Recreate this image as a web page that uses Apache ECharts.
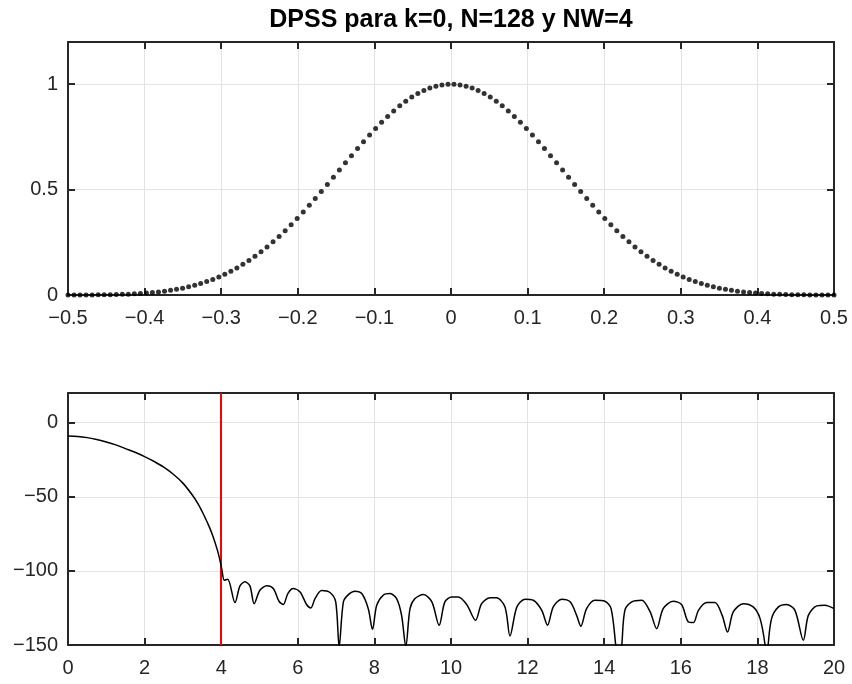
<!DOCTYPE html>
<html><head><meta charset="utf-8">
<script src="https://cdn.jsdelivr.net/npm/echarts@6/dist/echarts.min.js"></script>
<style>html,body{margin:0;padding:0;background:#fff}#c{width:852px;height:684px}</style>
</head><body><div id="c"></div>
<script>
const titleText = 'DPSS para k=0, N=128 y NW=4';

// Top panel: DPSS window samples (time axis -0.5..0.5)
const winX = [
-0.5000,-0.4921,-0.4843,-0.4764,-0.4685,-0.4606,-0.4528,-0.4449,-0.4370,-0.4291,-0.4213,-0.4134,-0.4055,-0.3976,-0.3898,-0.3819,
-0.3740,-0.3661,-0.3583,-0.3504,-0.3425,-0.3346,-0.3268,-0.3189,-0.3110,-0.3031,-0.2953,-0.2874,-0.2795,-0.2717,-0.2638,-0.2559,
-0.2480,-0.2402,-0.2323,-0.2244,-0.2165,-0.2087,-0.2008,-0.1929,-0.1850,-0.1772,-0.1693,-0.1614,-0.1535,-0.1457,-0.1378,-0.1299,
-0.1220,-0.1142,-0.1063,-0.0984,-0.0906,-0.0827,-0.0748,-0.0669,-0.0591,-0.0512,-0.0433,-0.0354,-0.0276,-0.0197,-0.0118,-0.0039,
0.0039,0.0118,0.0197,0.0276,0.0354,0.0433,0.0512,0.0591,0.0669,0.0748,0.0827,0.0906,0.0984,0.1063,0.1142,0.1220,
0.1299,0.1378,0.1457,0.1535,0.1614,0.1693,0.1772,0.1850,0.1929,0.2008,0.2087,0.2165,0.2244,0.2323,0.2402,0.2480,
0.2559,0.2638,0.2717,0.2795,0.2874,0.2953,0.3031,0.3110,0.3189,0.3268,0.3346,0.3425,0.3504,0.3583,0.3661,0.3740,
0.3819,0.3898,0.3976,0.4055,0.4134,0.4213,0.4291,0.4370,0.4449,0.4528,0.4606,0.4685,0.4764,0.4843,0.4921,0.5000
];
const winY = [
0.0000,0.0001,0.0001,0.0003,0.0005,0.0007,0.0011,0.0016,0.0022,0.0031,0.0041,0.0055,0.0071,0.0091,0.0115,0.0145,
0.0179,0.0220,0.0268,0.0323,0.0386,0.0459,0.0542,0.0635,0.0739,0.0856,0.0985,0.1127,0.1283,0.1453,0.1637,0.1837,
0.2050,0.2279,0.2522,0.2779,0.3050,0.3333,0.3629,0.3935,0.4251,0.4576,0.4908,0.5245,0.5585,0.5928,0.6270,0.6609,
0.6944,0.7271,0.7590,0.7898,0.8192,0.8470,0.8731,0.8971,0.9190,0.9386,0.9557,0.9701,0.9818,0.9907,0.9966,1.0000,
1.0000,0.9966,0.9907,0.9818,0.9701,0.9557,0.9386,0.9190,0.8971,0.8731,0.8470,0.8192,0.7898,0.7590,0.7271,0.6944,
0.6609,0.6270,0.5928,0.5585,0.5245,0.4908,0.4576,0.4251,0.3935,0.3629,0.3333,0.3050,0.2779,0.2522,0.2279,0.2050,
0.1837,0.1637,0.1453,0.1283,0.1127,0.0985,0.0856,0.0739,0.0635,0.0542,0.0459,0.0386,0.0323,0.0268,0.0220,0.0179,
0.0145,0.0115,0.0091,0.0071,0.0055,0.0041,0.0031,0.0022,0.0016,0.0011,0.0007,0.0005,0.0003,0.0001,0.0001,0.0000
];

// Bottom panel: spectrum in dB
const freq = [
0,0.25,0.5,0.75,1.0,1.25,1.5,1.75,2.0,2.25,2.5,2.75,3.0,3.25,3.4,3.55,3.7,3.8,3.9,3.96,4.02,
4.08,4.17,4.36,4.49,4.62,4.75,4.86,5.01,5.19,5.36,5.51,5.62,5.74,5.88,6.06,6.23,6.34,6.45,6.62,6.84,6.99,
7.08,7.19,7.32,7.49,7.67,7.84,7.95,8.06,8.23,8.41,8.58,8.71,8.82,8.93,9.06,9.28,9.50,9.69,9.84,
10.02,10.19,10.41,10.64,10.80,11.02,11.19,11.41,11.54,11.72,11.93,12.15,12.37,12.52,12.67,12.89,13.11,13.28,13.39,13.54,13.76,
14.02,14.18,14.30,14.38,14.46,14.54,14.72,14.98,15.20,15.37,15.54,15.80,16.02,16.20,16.33,16.46,16.68,16.89,17.08,17.22,17.37,17.63,17.89,
18.07,18.20,18.24,18.28,18.37,18.55,18.76,18.98,19.20,19.33,19.55,19.76,20.0
];
const magDb = [
-9.0,-9.3,-10.1,-11.4,-13.0,-15.0,-17.5,-20.0,-22.9,-26.2,-30.0,-34.8,-40.8,-49.0,-55.0,-62.5,-71.0,-77.8,-86.0,-92.0,-99.5,
-106.3,-105.6,-121.4,-110.1,-107.4,-110.1,-122.1,-113.1,-110.1,-111.9,-120.5,-122.7,-115.3,-111.9,-114.2,-122.7,-125.0,-118.7,-113.3,-114.6,-120.9,
-151,-120.9,-116.0,-113.7,-115.3,-125.5,-139.4,-123.2,-116.4,-115.3,-118.7,-130.0,-151,-125.5,-118.7,-116.0,-120.9,-136.7,-120.9,
-117.6,-117.6,-122.7,-133.3,-122.1,-118.2,-118.2,-124.3,-143.9,-124.3,-119.1,-119.8,-126.6,-136.7,-124.3,-119.1,-120.9,-130.0,-137.4,-125.5,-119.8,
-120.5,-125.5,-150,-170,-150,-126.6,-120.9,-119.8,-127.7,-139.0,-125.5,-120.5,-122.7,-134.5,-134.9,-126.6,-121.4,-121.4,-130.0,-141.2,-127.7,-122.1,-124.3,
-132.2,-150,-165,-150,-132.2,-124.3,-122.7,-126.6,-146.8,-130.0,-123.6,-123.2,-125.5
];
const redLineX = 4;

// Tick labels
const topXTicks = [-0.5,-0.4,-0.3,-0.2,-0.1,0,0.1,0.2,0.3,0.4,0.5];
const topYTicks = [0,0.5,1];
const botXTicks = [0,2,4,6,8,10,12,14,16,18,20];
const botYTicks = [-150,-100,-50,0];

const FONT = '"Liberation Sans", Arial, Helvetica, sans-serif';
const AX = '#262626';
const GRIDC = '#e3e3e3';

function fmt(ticks) {
  return function (v) {
    const hit = ticks.find(t => Math.abs(t - v) < 1e-9);
    if (hit === undefined) return '';
    return String(hit).replace('-', '\u2212');
  };
}
function mainAxis(gridIndex, min, max, interval, ticks, isX) {
  return {
    type: 'value', gridIndex, min, max, interval,
    position: isX ? 'bottom' : 'left',
    axisLine: { show: true, onZero: false, lineStyle: { color: AX, width: 2 } },
    axisTick: { show: true, inside: true, length: 7, lineStyle: { color: AX, width: 2 } },
    axisLabel: { show: true, formatter: fmt(ticks), color: AX, fontSize: 20, fontFamily: FONT, margin: isX ? 13 : 10 },
    splitLine: { show: true, lineStyle: { color: GRIDC, width: 1 } }
  };
}
function mirrorAxis(gridIndex, min, max, interval, isX) {
  return {
    type: 'value', gridIndex, min, max, interval,
    position: isX ? 'top' : 'right',
    axisLine: { show: true, onZero: false, lineStyle: { color: AX, width: 2 } },
    axisTick: { show: true, inside: true, length: 7, lineStyle: { color: AX, width: 2 } },
    axisLabel: { show: false },
    splitLine: { show: false }
  };
}

const chart = echarts.init(document.getElementById('c'), null, { renderer: 'canvas' });
chart.setOption({
  animation: false,
  backgroundColor: '#ffffff',
  graphic: [{
    type: 'text', x: 451, y: 20,
    style: { text: titleText, fill: '#000', font: 'bold 25px ' + FONT, textAlign: 'center', textVerticalAlign: 'middle' }
  }],
  grid: [
    { left: 68, top: 42, width: 766, height: 253 },
    { left: 68, top: 393, width: 766, height: 252 }
  ],
  xAxis: [
    mainAxis(0, -0.5, 0.5, 0.1, topXTicks, true),
    mirrorAxis(0, -0.5, 0.5, 0.1, true),
    mainAxis(1, 0, 20, 2, botXTicks, true),
    mirrorAxis(1, 0, 20, 2, true)
  ],
  yAxis: [
    mainAxis(0, 0, 1.2, 0.5, topYTicks, false),
    mirrorAxis(0, 0, 1.2, 0.5, false),
    mainAxis(1, -150, 20, 50, botYTicks, false),
    mirrorAxis(1, -150, 20, 50, false)
  ],
  series: [
    {
      type: 'scatter', xAxisIndex: 0, yAxisIndex: 0, clip: false,
      symbol: 'circle', symbolSize: 5,
      itemStyle: { color: '#000' },
      data: winX.map((x, i) => [x, winY[i]]),
      z: 5
    },
    {
      type: 'line', xAxisIndex: 2, yAxisIndex: 2,
      showSymbol: false, symbol: 'none', smooth: 0.3, clip: true,
      lineStyle: { color: '#000', width: 1.5 },
      data: freq.map((f, i) => [f, magDb[i]]),
      markLine: {
        silent: true, symbol: ['none', 'none'], animation: false,
        label: { show: false },
        lineStyle: { color: '#ff0000', width: 2, type: 'solid' },
        emphasis: { disabled: true },
        data: [{ xAxis: redLineX }]
      },
      z: 5
    }
  ]
});
</script>
</body></html>
